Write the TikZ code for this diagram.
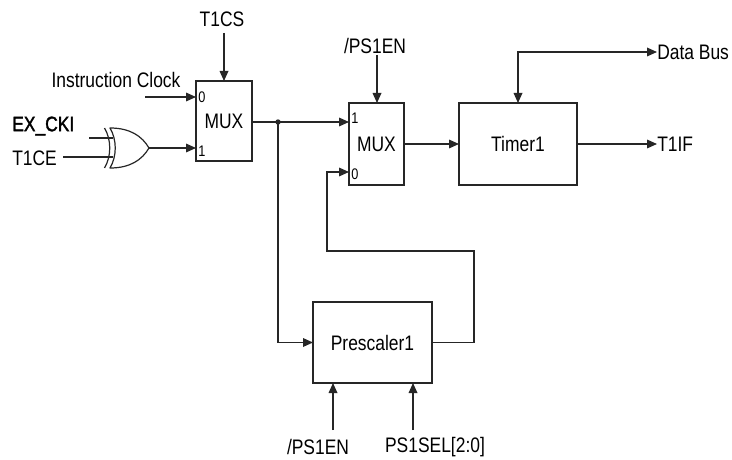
\documentclass[tikz,border=0pt]{standalone}
\usepackage{fontspec}
\setmainfont{Liberation Sans}[FakeStretch=0.83]
\newfontfamily\exfont{Liberation Sans}[FakeStretch=0.83,FakeBold=1.6]
\usetikzlibrary{arrows.meta}
\begin{document}
\begin{tikzpicture}[x=0.75pt,y=-0.75pt,
  wire/.style={line width=0.9pt,draw=black!85},
  arr/.style={wire,-{Triangle[length=7.5pt,width=6.5pt]}},
  blk/.style={draw=black!85,line width=0.9pt,rectangle,inner sep=0pt,outer sep=0pt,font=\fontsize{15.75pt}{17pt}\selectfont},
  lbl/.style={inner sep=0pt,font=\fontsize{15.75pt}{17pt}\selectfont},
  pin/.style={inner sep=0pt,font=\fontsize{11.5pt}{12pt}\selectfont}]
\useasboundingbox[fill=white] (0,0) rectangle (732,460);

% blocks
\node[blk,minimum width=42pt,minimum height=60pt] (mux1) at (224,121) {MUX};
\node[blk,minimum width=41.25pt,minimum height=61.5pt] (mux2) at (376.5,144) {MUX};
\node[blk,minimum width=88.5pt,minimum height=61.5pt] (timer) at (518,144) {Timer1};
\node[blk,minimum width=89.25pt,minimum height=60.75pt] (presc) at (372.5,342.5) {Prescaler1};

% pin labels
\node[pin,anchor=west] (m1p0) at (198,97) {0};
\node[pin,anchor=west] (m1p1) at (198,151) {1};
\node[pin,anchor=west] (m2p1) at (351,118) {1};
\node[pin,anchor=west] (m2p0) at (351,174) {0};

% texts
\node[lbl] (t1cs) at (222,19) {T1CS};
\node[lbl] (iclk) at (116,80) {Instruction Clock};
\node[lbl,anchor=west,font=\fontsize{15.75pt}{17pt}\exfont] (exck) at (12,126) {EX\_CKI};
\node[lbl,anchor=west] (t1ce) at (12,158) {T1CE};
\node[lbl] (ps1en) at (375,46) {/PS1EN};
\node[lbl,anchor=west] (dbus) at (657,52) {Data Bus};
\node[lbl,anchor=west] (t1if) at (657,144) {T1IF};
\node[lbl] (ps1enb) at (318,447) {/PS1EN};
\node[lbl] (ps1sel) at (435,447) {PS1SEL[2:0]};

% XOR gate
\draw[wire,line join=round] (110,128) .. controls (130,128) and (142,136) .. (149,148)
   .. controls (142,160) and (130,168) .. (110,168)
   .. controls (117,156) and (117,140) .. (110,128) -- cycle;
\draw[wire] (104.5,128) .. controls (111.5,140) and (111.5,156) .. (104.5,168);
\coordinate (xorout) at (149,148);
\coordinate (xin1) at (113,138);
\coordinate (xin2) at (113,157);
\coordinate (xa) at (89,138);
\coordinate (xb) at (63,157);
\draw[wire] (xa) -- (xin1);
\draw[wire] (xb) -- (xin2);

% connectors
\coordinate (t1cstop) at (224,33);
\draw[arr] (t1cstop) -- (mux1.north);
\coordinate (icin) at (145,97);
\draw[arr] (icin) -- (icin -| mux1.west);
\draw[arr] (xorout) -- (xorout -| mux1.west);

\coordinate (dot) at (278,122);
\draw[wire] (mux1.east |- dot) -- (dot);
\draw[arr] (dot) -- (dot -| mux2.west);
\fill[black!85] (dot) circle (2pt);
\draw[arr] (dot) |- (presc.west);

\coordinate (fb1) at (474,251);
\coordinate (fb2) at (327,172);
\draw[arr] (presc.east) -| (fb1) -| (fb2) -- (fb2 -| mux2.west);

\coordinate (ps1top) at (377,55);
\draw[arr] (ps1top) -- (ps1top |- mux2.north);
\draw[arr] (mux2.east) -- (timer.west);
\draw[arr] (timer.east) -- (t1if.west);
\draw[wire,{Triangle[length=7.5pt,width=6.5pt]}-{Triangle[length=7.5pt,width=6.5pt]}] (timer.north) |- (dbus.west);

\coordinate (pb1) at (333,430);
\coordinate (pb2) at (413,430);
\draw[arr] (pb1) -- (pb1 |- presc.south);
\draw[arr] (pb2) -- (pb2 |- presc.south);
\end{tikzpicture}
\end{document}
